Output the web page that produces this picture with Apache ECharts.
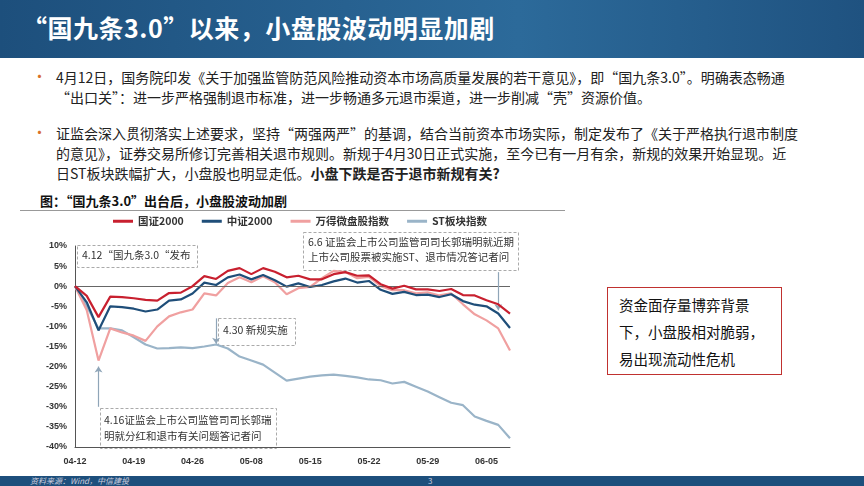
<!DOCTYPE html>
<html><head><meta charset="utf-8">
<script src="https://cdn.jsdelivr.net/npm/echarts@6/dist/echarts.min.js"></script>
<style>
body{margin:0;width:864px;height:486px;overflow:hidden;background:#fff;font-family:"Noto Sans CJK SC",sans-serif;position:relative}
#banner{position:absolute;left:0;top:0;width:864px;height:58px;background:linear-gradient(90deg,#1d4f7c,#2c6a9a 60%,#1f5280);}
#title{position:absolute;left:22px;top:9px;color:#fff;font-size:25px;font-weight:bold;letter-spacing:0.5px}
.p{position:absolute;left:56px;width:780px;font-size:14px;line-height:20px;color:#222}
.b{position:absolute;left:32px;color:#d9702a;font-size:15px}
#ft{position:absolute;left:0;top:476px;width:864px;height:10px;background:#1d4f7c;color:#ccd;font-size:8px;line-height:10px}
#box{position:absolute;left:607px;top:287px;width:175px;height:88px;border:1.5px solid #c0312f;font-size:14.5px;line-height:27px;padding:3px 0 0 11px;box-sizing:border-box;color:#111}
#chart{position:absolute;left:20px;top:210px;width:560px;height:264px}
</style></head><body>
<div id="banner"><div id="title">“国九条3.0”以来，小盘股波动明显加剧</div></div>
<div class="b" style="top:65px">•</div>
<div class="p" style="top:67px">4月12日，国务院印发《关于加强监管防范风险推动资本市场高质量发展的若干意见》，即“国九条3.0”。明确表态畅通<br>“出口关”：进一步严格强制退市标准，进一步畅通多元退市渠道，进一步削减“壳”资源价值。</div>
<div class="b" style="top:121px">•</div>
<div class="p" style="top:123px">证监会深入贯彻落实上述要求，坚持“两强两严”的基调，结合当前资本市场实际，制定发布了《关于严格执行退市制度<br>的意见》，证券交易所修订完善相关退市规则。新规于4月30日正式实施，至今已有一月有余，新规的效果开始显现。近<br>日ST板块跌幅扩大，小盘股也明显走低。<b>小盘下跌是否于退市新规有关?</b></div>
<div style="position:absolute;left:40px;top:191px;font-size:13px;font-weight:bold;color:#111">图：“国九条3.0”出台后，小盘股波动加剧</div>
<div style="position:absolute;left:20px;top:210px;width:545px;border-top:1px solid #999"></div>
<div id="chart"></div>
<div id="box">资金面存量博弈背景<br>下，小盘股相对脆弱，<br>易出现流动性危机</div>
<div id="ft"><span style="margin-left:30px;font-style:italic">资料来源：Wind，中信建投</span><span style="position:absolute;left:428px">3</span></div>
<script>
const dates=['04-12','04-15','04-16','04-17','04-18','04-19','04-22','04-23','04-24','04-25','04-26','04-29','04-30','05-06','05-07','05-08','05-09','05-10','05-13','05-14','05-15','05-16','05-17','05-20','05-21','05-22','05-23','05-24','05-27','05-28','05-29','05-30','05-31','06-03','06-04','06-05','06-06','06-07'];
const shownLabels=['04-12','04-19','04-26','05-08','05-15','05-22','05-29','06-05'];
const gz2000=[0,-2.4,-7.7,-2.6,-2.7,-3.0,-3.4,-3.6,-1.7,-1.6,0,2.5,1.8,3.8,4.5,3.0,4.5,3.6,2.2,2.6,1.7,1.7,3.0,3.5,2.6,2.7,0.5,-0.6,0.1,-0.8,-0.8,-1.2,-0.7,-2.2,-2.3,-3.5,-4.5,-6.8];
const zz2000=[0,-4,-11,-5,-5.2,-5.6,-6.3,-5.8,-3.6,-3.3,-1.8,0.9,0.3,2.2,2.9,1.7,2.8,1.5,-0.1,0.7,-0.2,0.3,1.2,1.9,0.9,1.3,-0.9,-1.9,-1.4,-2.2,-2.1,-2.7,-2.0,-3.7,-4.6,-5.0,-6.8,-10.4];
const wind=[0,-6,-18.5,-10.5,-11.5,-12.3,-13.6,-10,-7.5,-6.5,-5.8,-1.8,-2.3,0.8,2.2,1.0,2.5,1.0,-2.0,-0.5,-0.2,2.0,3.8,3.5,2.0,2.3,0.0,-1.0,-1.0,-1.8,-1.5,-2.3,-1.8,-4.5,-7.0,-8.5,-10.5,-16.0];
const st=[0,-5,-10.5,-10.5,-11,-12.7,-14.5,-15.5,-15.4,-15.2,-15.4,-15.0,-14.5,-15.5,-17.5,-18.5,-19.5,-21.5,-23.5,-23,-22.5,-22.2,-22,-22.3,-22.7,-23.2,-23.4,-24.2,-23.8,-25,-26.2,-27.6,-29,-29.6,-32.4,-33.5,-34.5,-37.8];
const ff='"Noto Sans CJK SC",sans-serif';
const ln=(name,data,color,extra)=>Object.assign({name,type:'line',data,symbol:'none',lineStyle:{color,width:2.2},itemStyle:{color}},extra||{});
const arrow=(a,b)=>[{coord:a},{coord:b}];
const c=echarts.init(document.getElementById('chart'));
c.setOption({
 animation:false,
 legend:{top:1,left:88,itemWidth:20,itemHeight:3,itemGap:18,icon:'rect',textStyle:{fontFamily:ff,fontSize:10.5,fontWeight:'bold',color:'#333'}},
 grid:{left:55,right:70,top:36,bottom:27},
 xAxis:{type:'category',data:dates,boundaryGap:false,
  axisLine:{onZero:false,lineStyle:{color:'#555'}},axisTick:{show:false},
  axisLabel:{fontSize:9,color:'#333',fontWeight:'bold',interval:(i,v)=>shownLabels.includes(v),margin:10}},
 yAxis:{type:'value',min:-40,max:10,interval:5,splitLine:{show:false},
  axisLine:{show:true,lineStyle:{color:'#555'}},axisTick:{show:false},
  axisLabel:{fontSize:9,color:'#333',fontWeight:'bold',formatter:'{value}%'}},
 series:[
  ln('国证2000',gz2000,'#c8202f',{z:5,markLine:{silent:true,symbol:'none',label:{show:false},lineStyle:{color:'#666',width:1,type:'solid'},data:[{yAxis:0}]}}),
  ln('中证2000',zz2000,'#1f4e79',{z:4}),
  ln('万得微盘股指数',wind,'#f0a0a0',{z:3}),
  ln('ST板块指数',st,'#9ab4c8',{z:2,markLine:{silent:true,symbol:['none','arrow'],symbolSize:6,label:{show:false},lineStyle:{color:'#8fa5b8',width:1.2,type:'solid'},
    data:[arrow([0,10.5],[0,0.3]),arrow([12,-8],[12,-14.3]),arrow([2,-30],[2,-20]),arrow([36,3.5],[36,-6])]}})
 ],
 graphic:[
  {type:'group',children:[
   {type:'rect',left:57,top:35,shape:{width:120,height:22},style:{fill:'#fff',stroke:'#aaa',lineDash:[3,2]}},
   {type:'text',left:62,top:40,style:{text:'4.12“国九条3.0“发布',font:'10.5px '+ff,fill:'#333'}},
   {type:'rect',left:283,top:22,shape:{width:215,height:38},style:{fill:'#fff',stroke:'#aaa',lineDash:[3,2]}},
   {type:'text',left:288,top:25,style:{text:'6.6 证监会上市公司监管司司长郭瑞明就近期\n上市公司股票被实施ST、退市情况答记者问',font:'10.5px '+ff,lineHeight:15,fill:'#333'}},
   {type:'rect',left:198,top:108,shape:{width:77,height:27},style:{fill:'#fff',stroke:'#aaa',lineDash:[3,2]}},
   {type:'text',left:203,top:115,style:{text:'4.30 新规实施',font:'10.5px '+ff,fill:'#333'}},
   {type:'rect',left:80,top:198,shape:{width:176,height:40},style:{fill:'#fff',stroke:'#aaa',lineDash:[3,2]}},
   {type:'text',left:84,top:202,style:{text:'4.16证监会上市公司监管司司长郭瑞\n明就分红和退市有关问题答记者问',font:'10.5px '+ff,lineHeight:16,fill:'#333'}}
  ]}
 ]
});
</script></body></html>
